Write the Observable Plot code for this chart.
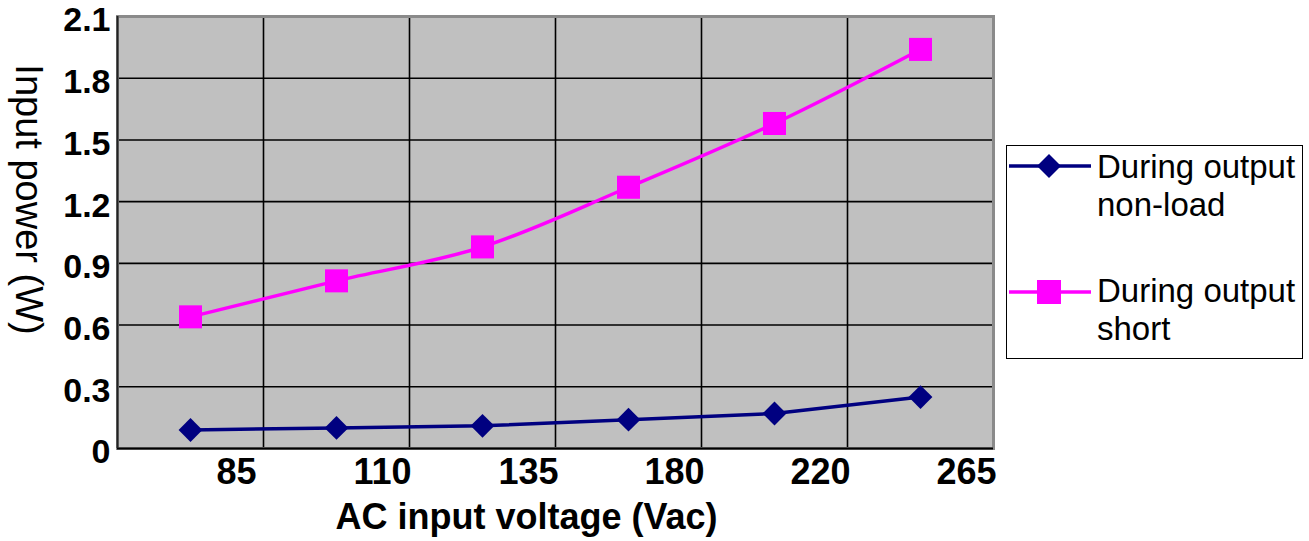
<!DOCTYPE html>
<html>
<head>
<meta charset="utf-8">
<script src="https://cdn.jsdelivr.net/npm/d3@7"></script>
<script src="https://cdn.jsdelivr.net/npm/@observablehq/plot@0.6"></script>
<style>
  body { margin: 0; background: #fff; font-family: "Liberation Sans", Arial, sans-serif; }
  #wrap { position: relative; width: 1309px; height: 541px; }
  #legend { position: absolute; left: 1006px; top: 145px; width: 297px; height: 214px;
    border: 1.5px solid #000; background: #fff; box-sizing: border-box; }
  .entry { position: absolute; left: 0; width: 297px; }
  .entry svg { position: absolute; left: 2px; }
  .entry .lbl { position: absolute; left: 90px; font-size: 33px; line-height: 38px; color: #000; white-space: nowrap; }
</style>
</head>
<body>
<div id="wrap"></div>
<script>
const voltages = ["85", "110", "135", "180", "220", "265"];
const nonLoad = [0.09, 0.10, 0.11, 0.14, 0.17, 0.25];
const shortOut = [0.64, 0.815, 0.98, 1.27, 1.58, 1.94];
const yTicks = [0, 0.3, 0.6, 0.9, 1.2, 1.5, 1.8, 2.1];
const seriesNames = ["During output non-load", "During output short"];
const seriesColors = ["#000080", "#ff00ff"];

const boundaries = voltages.slice(1).map((_, i) => i + 0.5);
const rowsA = voltages.map((v, i) => ({i, v, y: nonLoad[i]}));
const rowsB = voltages.map((v, i) => ({i, v, y: shortOut[i]}));

const chart = Plot.plot({
  width: 1309,
  height: 541,
  marginLeft: 117,
  marginRight: 316,
  marginTop: 16,
  marginBottom: 93,
  style: {fontFamily: "Liberation Sans, Arial, sans-serif", background: "transparent"},
  x: {domain: [-0.5, voltages.length - 0.5], axis: null},
  y: {domain: [0, 2.1], axis: null},
  marks: [
    Plot.frame({fill: "#c0c0c0"}),
    Plot.ruleY(yTicks.slice(1, -1), {stroke: "#000", strokeWidth: 1.6}),
    Plot.ruleX(boundaries, {stroke: "#000", strokeWidth: 1.6}),
    Plot.frame({stroke: "#8a8a8a", strokeWidth: 3}),
    Plot.ruleY([0], {stroke: "#000", strokeWidth: 2}),
    Plot.ruleX([-0.5], {stroke: "#222", strokeWidth: 2}),
    Plot.line(rowsB, {x: "i", y: "y", stroke: seriesColors[1], strokeWidth: 3.5, curve: "monotone-x"}),
    Plot.dot(rowsB, {x: "i", y: "y", symbol: "square", r: 13, fill: seriesColors[1], stroke: "none"}),
    Plot.line(rowsA, {x: "i", y: "y", stroke: seriesColors[0], strokeWidth: 3.5}),
    Plot.dot(rowsA, {x: "i", y: "y", symbol: "square", rotate: 45, r: 9.5, fill: seriesColors[0], stroke: "none"}),
    Plot.text(yTicks, {x: -0.5, y: d => d, text: d => String(d), textAnchor: "end", dx: -7, dy: 4,
      fontSize: 34, fontWeight: "bold", fill: "#000"}),
    Plot.text(rowsA, {x: "i", text: "v", frameAnchor: "bottom", lineAnchor: "middle", textAnchor: "middle",
      dx: 46, dy: 24, fontSize: 36, fontWeight: "bold", fill: "#000"}),
    Plot.text(["AC input voltage (Vac)"], {frameAnchor: "bottom", lineAnchor: "middle", textAnchor: "middle",
      dx: -29, dy: 69, fontSize: 36, fontWeight: "bold", fill: "#000"}),
    Plot.text(["Input power (W)"], {frameAnchor: "left", textAnchor: "middle", lineAnchor: "middle",
      rotate: 90, dx: -89, dy: -33, fontSize: 38, fill: "#000"})
  ]
});

const wrap = document.getElementById("wrap");
wrap.appendChild(chart);

const legend = document.createElement("div");
legend.id = "legend";
const entries = [
  {lines: ["During output", "non-load"], top: 2, marker: "diamond"},
  {lines: ["During output", "short"], top: 126, marker: "square"}
];
entries.forEach((e, k) => {
  const div = document.createElement("div");
  div.className = "entry";
  div.style.top = e.top + "px";
  const col = seriesColors[k];
  const shape = e.marker === "diamond"
    ? `<path d="M40,7 L52,19 L40,31 L28,19 Z" fill="${col}"/>`
    : `<rect x="28" y="7" width="24" height="24" fill="${col}"/>`;
  div.innerHTML = `<svg width="84" height="40" style="top:${k === 0 ? -1 : 1}px"><line x1="0" x2="82" y1="19" y2="19" stroke="${col}" stroke-width="3.5"/>${shape}</svg>` +
    `<div class="lbl" style="top:0px">${e.lines[0]}<br>${e.lines[1]}</div>`;
  legend.appendChild(div);
});
wrap.appendChild(legend);
</script>
</body>
</html>
